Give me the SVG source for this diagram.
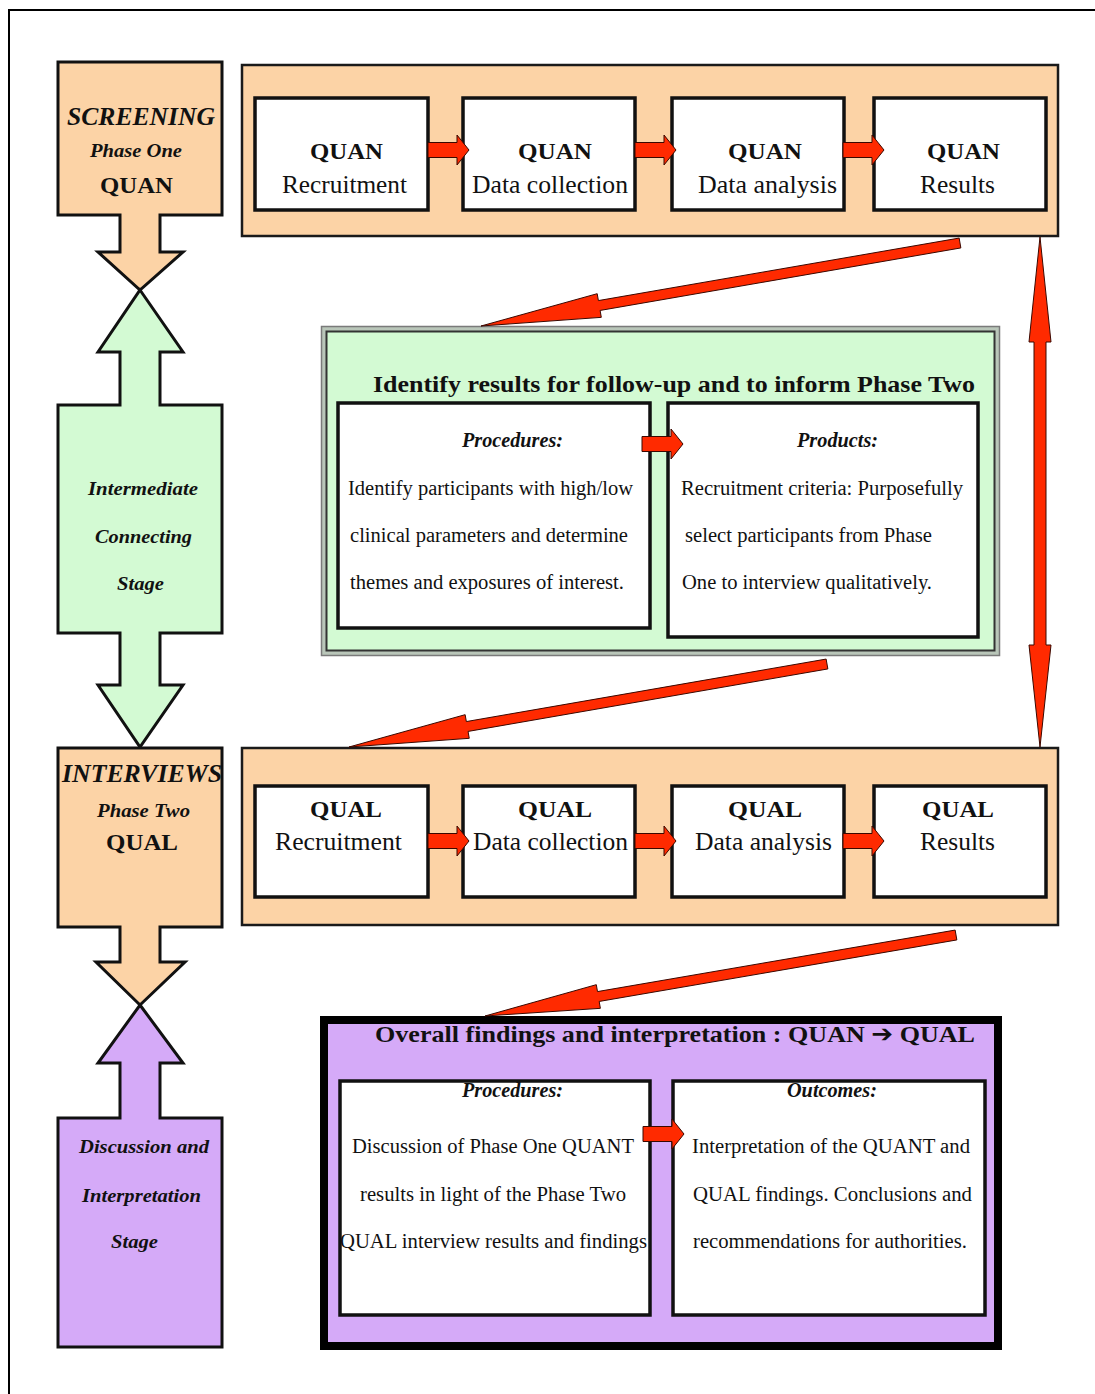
<svg xmlns="http://www.w3.org/2000/svg" width="1095" height="1394" viewBox="0 0 1095 1394">
<style>
.t{font-family:"Liberation Serif","Times New Roman",serif;fill:#111}
.b{font-weight:bold}
.bi{font-weight:bold;font-style:italic}
.peach{fill:#FCD3A6;stroke:#1a1a1a;stroke-width:2.5}
.green{fill:#D3FAD3}
.purple{fill:#D5AAF8}
.stage{stroke:#111;stroke-width:3;stroke-linejoin:miter}
.box{fill:#fff;stroke:#111;stroke-width:3.5}
.red{fill:#FF2A00;stroke:#3a0800;stroke-width:1}
.lab{font-size:24px}
.sub{font-size:25px}
.body{font-size:20px}
.hd{font-size:20px}
</style>
<defs>
<path id="sa" d="M0,-7.5 H29 V-15 L41,0 L29,15 V7.5 H0 Z"/>
</defs>
<rect width="1095" height="1394" fill="#fff"/>
<path d="M9,1394 V10 H1095" fill="none" stroke="#000" stroke-width="2"/>

<!-- Left column stages -->
<g id="screening">
<polygon class="peach stage" points="58,62 222,62 222,215 160,215 160,252 183,252 140,290 98,252 120,252 120,215 58,215"/>
<text class="t bi" x="67" y="125" font-size="25" textLength="148" lengthAdjust="spacingAndGlyphs">SCREENING</text>
<text class="t bi" x="90" y="157" font-size="19" textLength="92" lengthAdjust="spacingAndGlyphs">Phase One</text>
<text class="t b" x="100" y="193" font-size="24" textLength="73" lengthAdjust="spacingAndGlyphs">QUAN</text>
</g>
<g id="intermediate">
<polygon class="green stage" points="140,290 183,352 160,352 160,405 222,405 222,633 160,633 160,685 183,685 140,747 98,685 120,685 120,633 58,633 58,405 120,405 120,352 98,352"/>
<text class="t bi" x="88" y="495" font-size="19" textLength="110" lengthAdjust="spacingAndGlyphs">Intermediate</text>
<text class="t bi" x="95" y="543" font-size="19" textLength="97" lengthAdjust="spacingAndGlyphs">Connecting</text>
<text class="t bi" x="117" y="590" font-size="19" textLength="47" lengthAdjust="spacingAndGlyphs">Stage</text>
</g>
<g id="interviews">
<polygon class="peach stage" points="58,748 222,748 222,927 160,927 160,962 185,962 140,1005 96,962 120,962 120,927 58,927"/>
<text class="t bi" x="62" y="782" font-size="25" textLength="160" lengthAdjust="spacingAndGlyphs">INTERVIEWS</text>
<text class="t bi" x="97" y="817" font-size="19" textLength="93" lengthAdjust="spacingAndGlyphs">Phase Two</text>
<text class="t b" x="106" y="850" font-size="24" textLength="72" lengthAdjust="spacingAndGlyphs">QUAL</text>
</g>
<g id="discussion">
<polygon class="purple stage" points="140,1005 183,1063 160,1063 160,1118 222,1118 222,1347 58,1347 58,1118 120,1118 120,1063 98,1063"/>
<text class="t bi" x="79" y="1153" font-size="19" textLength="130" lengthAdjust="spacingAndGlyphs">Discussion and</text>
<text class="t bi" x="82" y="1202" font-size="19" textLength="119" lengthAdjust="spacingAndGlyphs">Interpretation</text>
<text class="t bi" x="111" y="1248" font-size="19" textLength="47" lengthAdjust="spacingAndGlyphs">Stage</text>
</g>

<!-- Phase One container -->
<g id="quan-phase">
<rect class="peach" x="242" y="65" width="816" height="171"/>
<g id="quan-recruitment">
<rect class="box" x="255" y="98" width="173" height="112"/>
<text class="t b lab" x="310" y="159" textLength="73" lengthAdjust="spacingAndGlyphs">QUAN</text>
<text class="t sub" x="282" y="193" textLength="125" lengthAdjust="spacingAndGlyphs">Recruitment</text>
</g>
<g id="quan-collection">
<rect class="box" x="463" y="98" width="172" height="112"/>
<text class="t b lab" x="518" y="159" textLength="74" lengthAdjust="spacingAndGlyphs">QUAN</text>
<text class="t sub" x="472" y="193" textLength="156" lengthAdjust="spacingAndGlyphs">Data collection</text>
</g>
<g id="quan-analysis">
<rect class="box" x="672" y="98" width="172" height="112"/>
<text class="t b lab" x="728" y="159" textLength="74" lengthAdjust="spacingAndGlyphs">QUAN</text>
<text class="t sub" x="698" y="193" textLength="139" lengthAdjust="spacingAndGlyphs">Data analysis</text>
</g>
<g id="quan-results">
<rect class="box" x="874" y="98" width="172" height="112"/>
<text class="t b lab" x="927" y="159" textLength="73" lengthAdjust="spacingAndGlyphs">QUAN</text>
<text class="t sub" x="920" y="193" textLength="75" lengthAdjust="spacingAndGlyphs">Results</text>
</g>
</g>

<!-- Intermediate green box -->
<g id="identify">
<rect x="321.5" y="326.5" width="678" height="329" fill="#b9c6b9" stroke="#7a7a7a" stroke-width="1.5"/>
<rect class="green" x="326.5" y="331.5" width="668" height="319" stroke="#333" stroke-width="2"/>
<text class="t b" x="373" y="392" font-size="24" textLength="602" lengthAdjust="spacingAndGlyphs">Identify results for follow-up and to inform Phase Two</text>
<g id="identify-procedures">
<rect class="box" x="338" y="403" width="312" height="225"/>
<text class="t bi hd" x="462" y="447" textLength="101" lengthAdjust="spacingAndGlyphs">Procedures:</text>
<text class="t body" x="348" y="495" textLength="285" lengthAdjust="spacingAndGlyphs">Identify participants with high/low</text>
<text class="t body" x="350" y="542" textLength="278" lengthAdjust="spacingAndGlyphs">clinical parameters and determine</text>
<text class="t body" x="350" y="589" textLength="274" lengthAdjust="spacingAndGlyphs">themes and exposures of interest.</text>
</g>
<g id="identify-products">
<rect class="box" x="668" y="403" width="310" height="234"/>
<text class="t bi hd" x="797" y="447" textLength="81" lengthAdjust="spacingAndGlyphs">Products:</text>
<text class="t body" x="681" y="495" textLength="282" lengthAdjust="spacingAndGlyphs">Recruitment criteria: Purposefully</text>
<text class="t body" x="685" y="542" textLength="247" lengthAdjust="spacingAndGlyphs">select participants from Phase</text>
<text class="t body" x="682" y="589" textLength="250" lengthAdjust="spacingAndGlyphs">One to interview qualitatively.</text>
</g>
</g>

<!-- Phase Two container -->
<g id="qual-phase">
<rect class="peach" x="242" y="748" width="816" height="177"/>
<g id="qual-recruitment">
<rect class="box" x="255" y="786" width="173" height="111"/>
<text class="t b lab" x="310" y="817" textLength="72" lengthAdjust="spacingAndGlyphs">QUAL</text>
<text class="t sub" x="275" y="850" textLength="127" lengthAdjust="spacingAndGlyphs">Recruitment</text>
</g>
<g id="qual-collection">
<rect class="box" x="463" y="786" width="172" height="111"/>
<text class="t b lab" x="518" y="817" textLength="74" lengthAdjust="spacingAndGlyphs">QUAL</text>
<text class="t sub" x="473" y="850" textLength="155" lengthAdjust="spacingAndGlyphs">Data collection</text>
</g>
<g id="qual-analysis">
<rect class="box" x="672" y="786" width="172" height="111"/>
<text class="t b lab" x="728" y="817" textLength="74" lengthAdjust="spacingAndGlyphs">QUAL</text>
<text class="t sub" x="695" y="850" textLength="137" lengthAdjust="spacingAndGlyphs">Data analysis</text>
</g>
<g id="qual-results">
<rect class="box" x="874" y="786" width="172" height="111"/>
<text class="t b lab" x="922" y="817" textLength="72" lengthAdjust="spacingAndGlyphs">QUAL</text>
<text class="t sub" x="920" y="850" textLength="75" lengthAdjust="spacingAndGlyphs">Results</text>
</g>
</g>

<!-- Overall findings purple box -->
<g id="overall">
<rect class="purple" x="324" y="1020" width="674" height="326" stroke="#000" stroke-width="8"/>
<text class="t b" x="375" y="1042" font-size="24" textLength="600" lengthAdjust="spacingAndGlyphs">Overall findings and interpretation : QUAN <tspan font-family="'DejaVu Sans',sans-serif">➔</tspan> QUAL</text>
<g id="overall-procedures">
<rect class="box" x="340" y="1081" width="310" height="234" stroke-width="3"/>
<text class="t bi hd" x="462" y="1097" textLength="101" lengthAdjust="spacingAndGlyphs">Procedures:</text>
<text class="t body" x="352" y="1153" textLength="282" lengthAdjust="spacingAndGlyphs">Discussion of Phase One QUANT</text>
<text class="t body" x="360" y="1201" textLength="266" lengthAdjust="spacingAndGlyphs">results in light of the Phase Two</text>
<text class="t body" x="340" y="1248" textLength="307" lengthAdjust="spacingAndGlyphs">QUAL interview results and findings</text>
</g>
<g id="overall-outcomes">
<rect class="box" x="673" y="1081" width="312" height="234" stroke-width="3"/>
<text class="t bi hd" x="787" y="1097" textLength="90" lengthAdjust="spacingAndGlyphs">Outcomes:</text>
<text class="t body" x="692" y="1153" textLength="278" lengthAdjust="spacingAndGlyphs">Interpretation of the QUANT and</text>
<text class="t body" x="693" y="1201" textLength="279" lengthAdjust="spacingAndGlyphs">QUAL findings. Conclusions and</text>
<text class="t body" x="693" y="1248" textLength="274" lengthAdjust="spacingAndGlyphs">recommendations for authorities.</text>
</g>
</g>

<!-- Connectors -->
<g id="connectors">
<use href="#sa" class="red" transform="translate(428,150)"/>
<use href="#sa" class="red" transform="translate(635,150)"/>
<use href="#sa" class="red" transform="translate(843,150)"/>
<use href="#sa" class="red" transform="translate(428,841)"/>
<use href="#sa" class="red" transform="translate(635,841)"/>
<use href="#sa" class="red" transform="translate(843,841)"/>
<use href="#sa" class="red" transform="translate(642,444)"/>
<use href="#sa" class="red" transform="translate(643,1134)"/>
<polygon class="red" points="959.15,238.07 598.40,300.59 597.20,293.70 481,326 601.30,317.35 600.10,310.45 960.85,247.93"/>
<polygon class="red" points="826.14,659.07 466.34,721.57 465.15,714.68 349,747 469.25,738.32 468.06,731.43 827.86,668.93"/>
<polygon class="red" points="955.15,930.07 597.49,991.58 596.31,984.68 485,1016 600.37,1008.34 599.19,1001.44 956.85,939.93"/>
<polygon class="red" points="1040,237 1051,342 1046,342 1046,645 1051,645 1040,747 1029,645 1034,645 1034,342 1029,342"/>
</g>
</svg>
